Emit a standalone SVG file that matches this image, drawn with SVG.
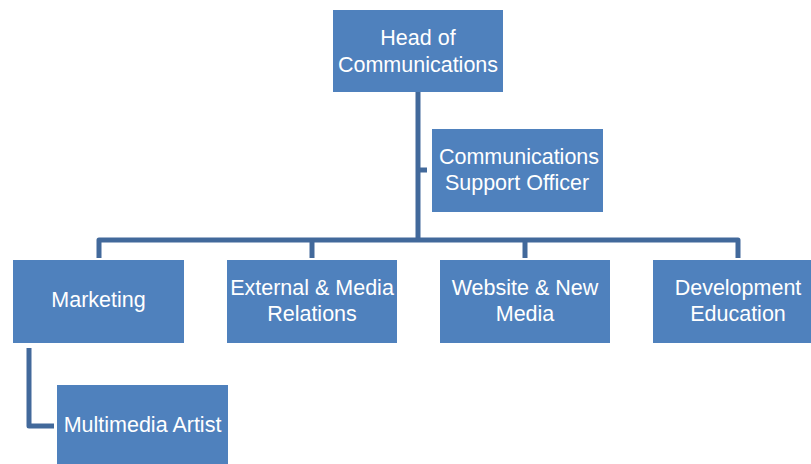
<svg xmlns="http://www.w3.org/2000/svg" width="811" height="464" viewBox="0 0 811 464">
<style>
.box{fill:#4F81BD;}
.t{font-family:"Liberation Sans",Arial,sans-serif;font-size:21.5px;fill:#FFFFFF;text-anchor:middle;}
.c{fill:none;stroke:#42699B;stroke-width:5;stroke-linejoin:round;stroke-linecap:butt;}
</style>
<rect width="811" height="464" fill="#FFFFFF"/>
<g id="connectors">
<path class="c" d="M418,92 V240"/>
<path class="c" d="M418,170 H427"/>
<path class="c" d="M99,258 V240 H738 V258"/>
<path class="c" d="M312,240 V258"/>
<path class="c" d="M525,240 V258"/>
<path class="c" d="M29,348 V426 H54"/>
</g>
<g id="head">
<rect class="box" x="333" y="10" width="170" height="82"/>
<text class="t" x="418" y="45">Head of</text>
<text class="t" x="418" y="72">Communications</text>
</g>
<g id="support">
<rect class="box" x="432" y="129" width="171" height="83"/>
<text class="t" x="519" y="164">Communications</text>
<text class="t" x="517" y="190">Support Officer</text>
</g>
<g id="marketing">
<rect class="box" x="13" y="260" width="171" height="83"/>
<text class="t" x="98.5" y="307">Marketing</text>
</g>
<g id="external">
<rect class="box" x="227" y="260" width="170" height="83"/>
<text class="t" x="312" y="295">External &amp; Media</text>
<text class="t" x="312" y="321">Relations</text>
</g>
<g id="website">
<rect class="box" x="440" y="260" width="170" height="83"/>
<text class="t" x="525" y="295">Website &amp; New</text>
<text class="t" x="525" y="321">Media</text>
</g>
<g id="development">
<rect class="box" x="653" y="260" width="171" height="83"/>
<text class="t" x="738" y="295">Development</text>
<text class="t" x="738" y="321">Education</text>
</g>
<g id="multimedia">
<rect class="box" x="57" y="385" width="171" height="83"/>
<text class="t" x="142.5" y="432">Multimedia Artist</text>
</g>
</svg>
